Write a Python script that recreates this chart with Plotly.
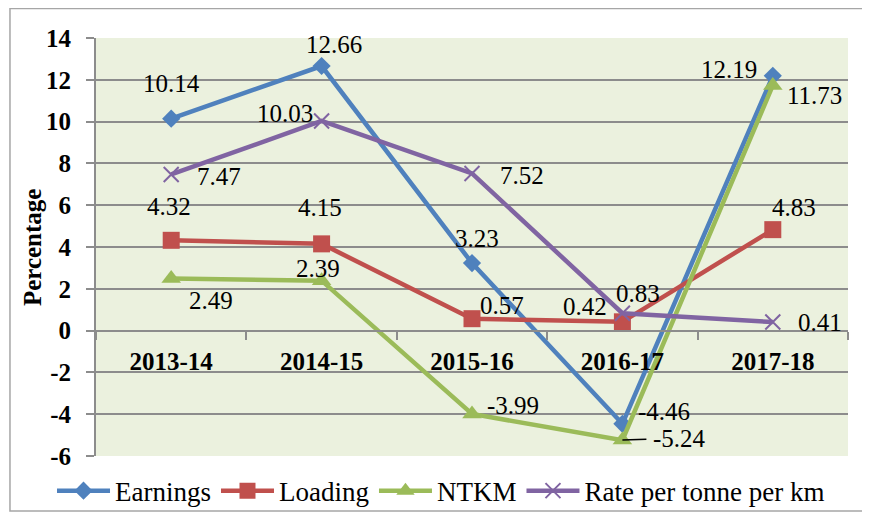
import plotly.graph_objects as go

years = ["2013-14", "2014-15", "2015-16", "2016-17", "2017-18"]
earnings = [10.14, 12.66, 3.23, -4.46, 12.19]
loading = [4.32, 4.15, 0.57, 0.42, 4.83]
ntkm = [2.49, 2.39, -3.99, -5.24, 11.73]
rate = [7.47, 10.03, 7.52, 0.83, 0.41]
y_ticks = list(range(-6, 16, 2))
y_title = "Percentage"

FONT = "Liberation Serif"

# name, values, colour, symbol, size, label offsets (px)
series = [
    ("Earnings", earnings, "#4F81BD", "diamond", 14,
     [(0, 35), (12, 22), (5, 25), (42, 12), (-44, 6)]),
    ("Loading", loading, "#C0504D", "square", 17,
     [(-2, 34), (-2, 36), (30, 13), (-37, 15), (21, 22)]),
    ("NTKM", ntkm, "#9BBB59", "triangle-up", 17,
     [(40, -22), (-4, 12), (41, 8), (None, None), (42, -10)]),
    ("Rate per tonne per km", rate, "#8064A2", "x-thin", 15,
     [(48, -2), (-37, 7), (50, -2), (16, 20), (47, 0)]),
]

fig = go.Figure()
annotations = []
for name, vals, col, sym, size, offs in series:
    mk = dict(symbol=sym, size=size, color=col)
    if sym == "x-thin":
        mk["line"] = dict(color=col, width=2)
    fig.add_trace(go.Scatter(
        x=years, y=vals, name=name, mode="lines+markers",
        line=dict(color=col, width=4.5), marker=mk,
    ))
    for i, (xs, ys) in enumerate(offs):
        if xs is None:
            annotations.append(dict(
                x=years[i], y=vals[i], xref="x", yref="y",
                text=f"{vals[i]:.2f}", showarrow=True, ax=57, ay=-2,
                axref="pixel", ayref="pixel", arrowhead=0, arrowwidth=1.5,
                arrowcolor="black", standoff=0, startstandoff=5,
                font=dict(family=FONT, size=25, color="black"),
            ))
        else:
            annotations.append(dict(
                x=years[i], y=vals[i], xref="x", yref="y",
                text=f"{vals[i]:.2f}", showarrow=False,
                xshift=xs, yshift=ys,
                font=dict(family=FONT, size=25, color="black"),
            ))

annotations.append(dict(
    x=-0.085, y=0.5, xref="paper", yref="paper", text=f"<b>{y_title}</b>",
    textangle=-90, showarrow=False, xanchor="center", yanchor="middle",
    font=dict(family=FONT, size=25, color="black"),
))

# the page body adds an 8px margin, so the figure is 8px smaller than the window
fig.update_layout(
    width=862, height=505,
    margin=dict(l=88, r=22, t=30, b=57, autoexpand=False),
    paper_bgcolor="white", plot_bgcolor="#EBF1DE",
    font=dict(family=FONT, color="black"),
    showlegend=True,
    legend=dict(
        orientation="h", xref="paper", x=-0.0585, xanchor="left",
        y=-0.084, yanchor="middle",
        font=dict(family=FONT, size=27, color="black"),
        itemwidth=53, tracegroupgap=0, bgcolor="rgba(0,0,0,0)",
    ),
    xaxis=dict(
        type="category", range=[-0.5, 4.5], anchor="free", position=0.3,
        showline=True, linecolor="#8C8C8C", linewidth=2,
        ticks="outside", tickson="boundaries", ticklen=8, tickwidth=1.5,
        tickcolor="#8C8C8C", showgrid=False, zeroline=False,
        tickfont=dict(family=FONT, size=25, color="black", weight="bold"),
        ticklabelstandoff=8,
    ),
    yaxis=dict(
        range=[-6, 14], tickvals=y_ticks, ticktext=[str(v) for v in y_ticks],
        showline=True, linecolor="#8C8C8C", linewidth=2,
        ticks="outside", ticklen=8, tickwidth=1.5, tickcolor="#8C8C8C",
        showgrid=True, gridcolor="#8C8C8C", gridwidth=1.5, zeroline=False,
        tickfont=dict(family=FONT, size=25, color="black", weight="bold"),
        ticklabelstandoff=10,
    ),
    annotations=annotations,
    shapes=[dict(
        type="rect", xref="paper", yref="paper",
        x0=-0.1144, x1=1.024, y0=-0.1316, y1=1.0706,
        line=dict(color="#A6A6A6", width=1.5), fillcolor="rgba(0,0,0,0)",
        layer="below",
    )],
)

fig.write_html("out.html")
